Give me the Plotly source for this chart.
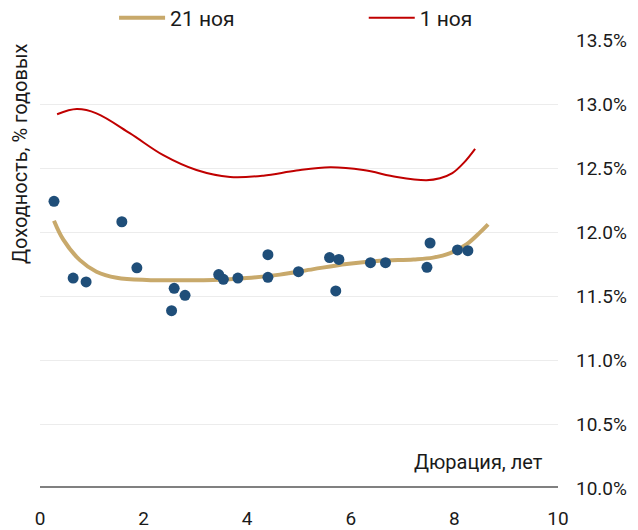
import plotly.graph_objects as go

# Scatter of bond yields (21 ноя)
bond_dur = [0.27, 0.64, 0.89, 1.58, 1.87, 2.54, 2.59, 2.80, 3.45, 3.54, 3.82, 4.40, 4.40,
            4.99, 5.59, 5.77, 5.71, 6.38, 6.67, 7.47, 7.53, 8.06, 8.26]
bond_yld = [12.24, 11.64, 11.61, 12.08, 11.72, 11.385, 11.56, 11.505, 11.667, 11.63, 11.64,
            11.823, 11.646, 11.69, 11.80, 11.786, 11.54, 11.76, 11.76, 11.724, 11.914, 11.86, 11.854]

# Curve 21 ноя
c21_x = [0.27, 0.45, 0.77, 1.09, 1.48, 2.06, 2.70, 3.35, 3.99, 4.63, 5.28, 5.92, 6.56, 7.21,
         7.59, 7.92, 8.24, 8.49, 8.65]
c21_y = [12.088, 11.94, 11.78, 11.69, 11.643, 11.625, 11.623, 11.625, 11.64, 11.667, 11.71,
         11.75, 11.775, 11.786, 11.80, 11.835, 11.905, 11.995, 12.06]

# Curve 1 ноя
c1_x = [0.33, 0.71, 1.09, 1.74, 2.38, 3.02, 3.67, 4.31, 4.95, 5.60, 6.24, 6.89, 7.46, 7.72,
        7.96, 8.18, 8.40]
c1_y = [12.92, 12.96, 12.927, 12.77, 12.60, 12.484, 12.43, 12.44, 12.48, 12.505, 12.484,
        12.43, 12.405, 12.42, 12.46, 12.54, 12.65]

x_ticks = [0, 2, 4, 6, 8, 10]
y_ticks = [10.0, 10.5, 11.0, 11.5, 12.0, 12.5, 13.0, 13.5]
y_labels = ["10.0%", "10.5%", "11.0%", "11.5%", "12.0%", "12.5%", "13.0%", "13.5%"]

FONT = "Roboto"
TXT = "#1a1a1a"

fig = go.Figure()
fig.add_trace(go.Scatter(x=c21_x, y=c21_y, mode="lines", name="21 ноя", legend="legend",
                         line=dict(color="#C8A96B", width=4, shape="spline", smoothing=1.0)))
fig.add_trace(go.Scatter(x=c1_x, y=c1_y, mode="lines", name="1 ноя", legend="legend2",
                         line=dict(color="#C00000", width=2, shape="spline", smoothing=1.0)))
fig.add_trace(go.Scatter(x=bond_dur, y=bond_yld, mode="markers", showlegend=False,
                         marker=dict(color="#1F4E79", size=11)))

fig.add_shape(type="line", xref="x", yref="y", x0=0, x1=10, y0=10, y1=10,
              line=dict(color="#808080", width=4), layer="above")

leg_common = dict(orientation="h", yanchor="middle", xanchor="left",
                  font=dict(size=21, color=TXT), itemwidth=46, bgcolor="rgba(0,0,0,0)")

fig.update_layout(
    width=630, height=522,
    margin=dict(l=32, r=80, t=32, b=42, autoexpand=False),
    paper_bgcolor="white", plot_bgcolor="white",
    font=dict(family=FONT, size=18, color=TXT),
    legend=dict(x=0.143, y=1.049, **leg_common),
    legend2=dict(x=0.625, y=1.049, **leg_common),
    xaxis=dict(range=[0, 10], tickvals=x_ticks, showgrid=False, zeroline=False,
               showline=False, ticks="", ticklabelstandoff=17, automargin=False,
               tickfont=dict(size=19, color=TXT)),
    yaxis=dict(range=[10, 13.5], tickvals=y_ticks, ticktext=y_labels, side="right",
               showgrid=True, gridcolor="#ececec", gridwidth=1, zeroline=False,
               showline=False, ticks="", ticklabelstandoff=17, automargin=False,
               tickfont=dict(size=19, color=TXT)),
    annotations=[
        dict(text="Доходность, % годовых", textangle=-90, xref="paper", yref="paper",
             x=-0.039, y=0.745, xanchor="center", yanchor="middle", showarrow=False,
             font=dict(size=20, color=TXT)),
        dict(text="Дюрация, лет", xref="x", yref="y", x=9.75, y=10.2, xanchor="right",
             yanchor="middle", showarrow=False, font=dict(size=20, color=TXT)),
    ],
)

fig.write_html("out.html")
